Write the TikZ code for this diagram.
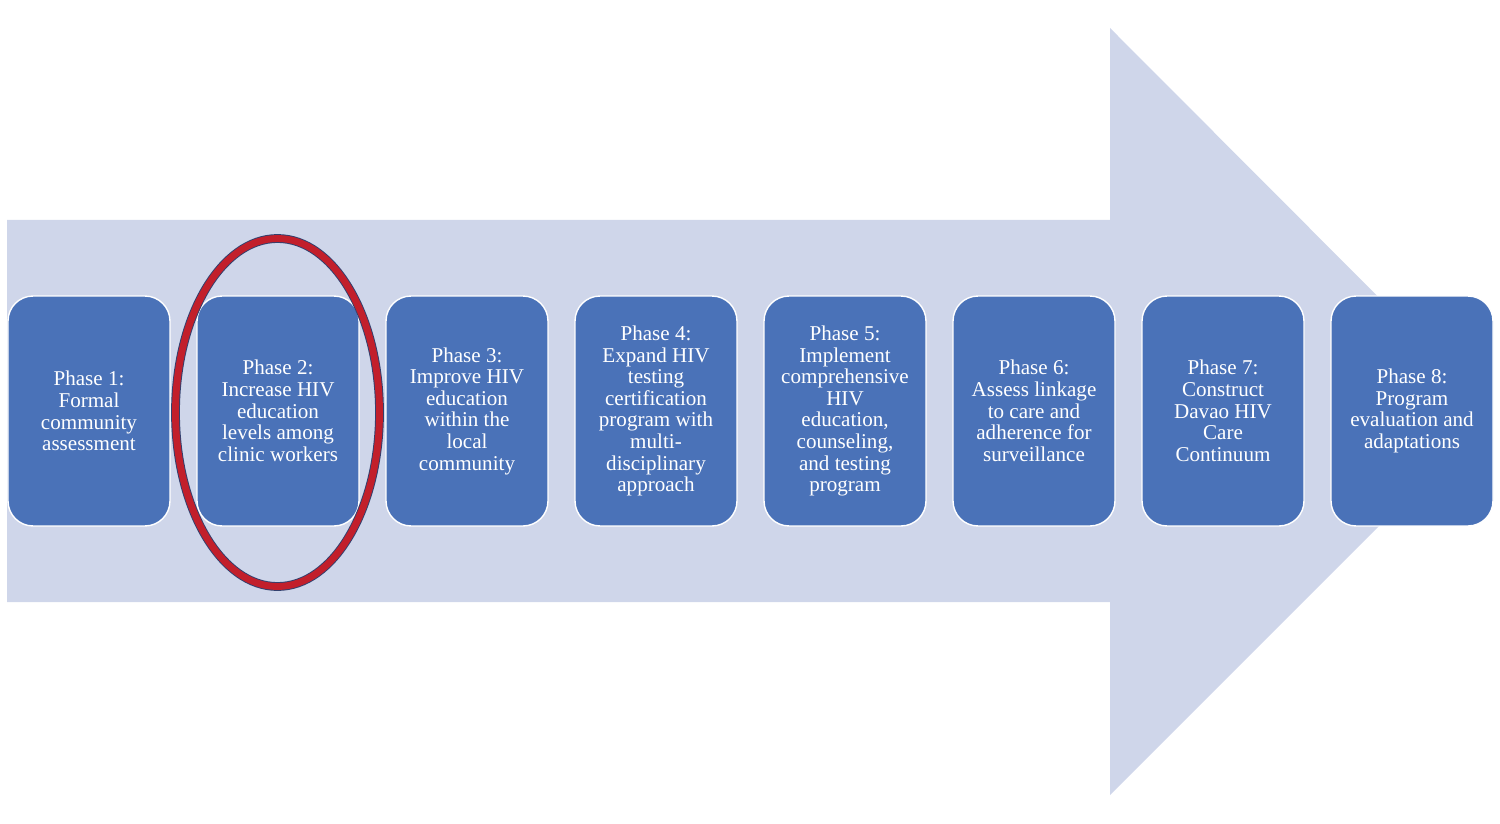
\documentclass[tikz,border=0pt]{standalone}
\usepackage{fontspec}
\setmainfont{Liberation Serif}
\usepackage{tikz}
\usetikzlibrary{positioning}
\definecolor{shaftblue}{HTML}{CFD6EA}
\definecolor{phaseblue}{HTML}{4A72B8}
\definecolor{ringred}{HTML}{C21F2B}
\definecolor{ringedge}{HTML}{33406E}
\tikzset{
 phasebox/.style={draw=white, line width=0.8pt, fill=phaseblue, rounded corners=0.5cm,
  minimum width=3.24cm, minimum height=4.6cm, inner sep=1pt, align=center, text=white,
  font=\fontsize{12}{12.3}\selectfont}
}
\begin{document}
\begin{tikzpicture}[x=0.02cm,y=-0.02cm]
\useasboundingbox (0,0) rectangle (1500,824);

% big arrow behind the phases
\fill[shaftblue] (7,220)--(1110,220)--(1110,28)--(1493,412)--(1110,795)--(1110,602)--(7,602)--cycle;

\foreach \i/\txt in {1/{Phase 1:\\Formal\\community\\assessment},
 2/{Phase 2:\\Increase HIV\\education\\levels among\\clinic workers},
 3/{Phase 3:\\Improve HIV\\education\\within the\\local\\community},
 4/{Phase 4:\\Expand HIV\\testing\\certification\\program with\\multi-\\disciplinary\\approach},
 5/{Phase 5:\\Implement\\comprehensive\\HIV\\education,\\counseling,\\and testing\\program},
 6/{Phase 6:\\Assess linkage\\to care and\\adherence for\\surveillance},
 7/{Phase 7:\\Construct\\Davao HIV\\Care\\Continuum},
 8/{Phase 8:\\Program\\evaluation and\\adaptations}}
 \node[phasebox] (p\i) at ({89+189*(\i-1)},411) {\txt};

% ring round phase 2
\draw[ringedge, line width=5pt] (277.5,412.5) ellipse [x radius=102, y radius=174];
\draw[ringred, line width=3.9pt] (277.5,412.5) ellipse [x radius=102, y radius=174];

\end{tikzpicture}
\end{document}
